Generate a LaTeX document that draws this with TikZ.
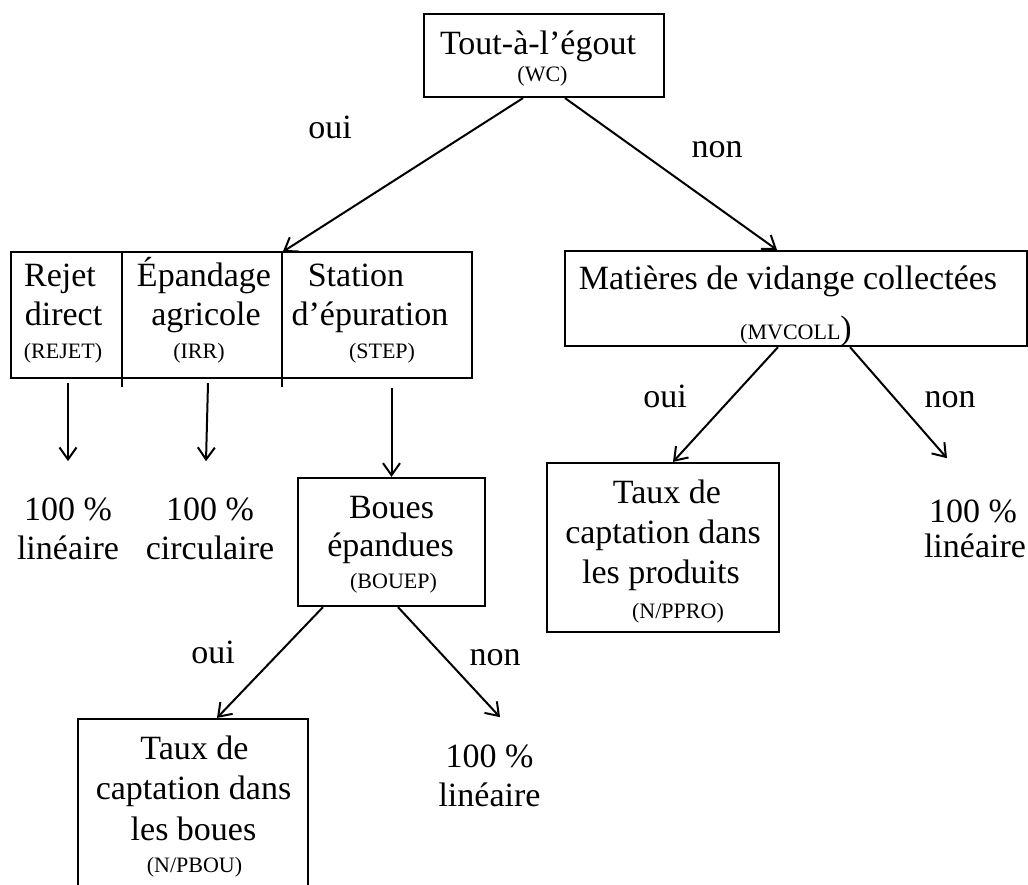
\documentclass[tikz,border=0pt]{standalone}
\usepackage{fontspec}
\setmainfont{Liberation Serif}
\usetikzlibrary{arrows.meta}
\tikzset{
  box/.style={draw, line width=2.2pt, inner sep=0pt},
  sect/.style={inner sep=0pt, minimum height=126pt},
  big/.style={font=\fontsize{34}{40}\selectfont, inner sep=0pt, anchor=base},
  sm/.style={font=\fontsize{22}{26}\selectfont, inner sep=0pt, anchor=base},
  conn/.style={line width=2pt, -{Straight Barb[length=12pt,width=17pt]}},
  divider/.style={line width=2.2pt},
}
\begin{document}
\begin{tikzpicture}[x=1pt,y=-1pt]
\useasboundingbox (0,0) rectangle (1028,885);
\fill[white] (0,0) rectangle (1028,885);
\clip (0,0) rectangle (1028,885);

% root question
\node[box, minimum width=240, minimum height=83] (wc) at (544,55.5) {};
\node[big] (wct) at (538,55) {Tout-à-l’égout};
\node[sm]  (wcs) at (542.5,82) {(WC)};

% sewer outlets: one box split in three
\node[box, minimum width=461, minimum height=126] (dest) at (241.5,315) {};
\node[sect, minimum width=111] (rejet) at (66.5,315) {};
\node[sect, minimum width=160] (irr)   at (202,315) {};
\node[sect, minimum width=190] (step)  at (377,315) {};
\draw[divider] (rejet.north east) -- ++(0,135);
\draw[divider] (irr.north east) -- ++(0,135);

\node[big] (rj1) at (60,287)   {Rejet};
\node[big] (rj2) at (63.5,325) {direct};
\node[sm]  (rj3) at (63,358)   {(REJET)};
\node[big] (ir1) at (204,287)  {Épandage};
\node[big] (ir2) at (206,325)  {agricole};
\node[sm]  (ir3) at (199,358)  {(IRR)};
\node[big] (st1) at (356,287)  {Station};
\node[big] (st2) at (370,325)  {d’épuration};
\node[sm]  (st3) at (382,358)  {(STEP)};

% collected sludge
\node[box, minimum width=462, minimum height=95] (mv) at (796,298.5) {};
\node[big] (mv1) at (788,290) {Matières de vidange collectées};
\node[sm]  (mv2) at (796,339) {(MVCOLL{\fontsize{34}{40}\selectfont)}};

% outcomes of the split box
\node[big] (lin1a) at (68,520)  {100 \%};
\node[big] (lin1b) at (68,559)  {linéaire};
\node[big] (circa) at (210,520) {100 \%};
\node[big] (circb) at (210,559) {circulaire};

% spread sludge
\node[box, minimum width=187, minimum height=128] (boues) at (391.5,542) {};
\node[big] (bo1) at (391.5,518) {Boues};
\node[big] (bo2) at (390.5,556) {épandues};
\node[sm]  (bo3) at (393.5,588) {(BOUEP)};

% capture rate in products
\node[box, minimum width=232, minimum height=169] (ppro) at (663,547.5) {};
\node[big] (pp1) at (667,503) {Taux de};
\node[big] (pp2) at (663,543) {captation dans};
\node[big] (pp3) at (661,583) {les produits};
\node[sm]  (pp4) at (678,618) {(N/PPRO)};

\node[big] (lin3a) at (973,522) {100 \%};
\node[big] (lin3b) at (975,557) {linéaire};

% capture rate in sludge
\node[box, minimum width=230, minimum height=200] (pbou) at (193,819) {};
\node[big] (pb1) at (194.5,759) {Taux de};
\node[big] (pb2) at (193.5,799) {captation dans};
\node[big] (pb3) at (193.5,840) {les boues};
\node[sm]  (pb4) at (194.5,872) {(N/PBOU)};

\node[big] (lin4a) at (489.5,767) {100 \%};
\node[big] (lin4b) at (489.5,806) {linéaire};

% branch labels
\node[big] (ouiA) at (330,139) {oui};
\node[big] (nonA) at (717,158) {non};
\node[big] (ouiB) at (665,407) {oui};
\node[big] (nonB) at (950,407) {non};
\node[big] (ouiC) at (213,663) {oui};
\node[big] (nonC) at (495,665) {non};

% connectors
\draw[conn] ([xshift=-21pt]wc.south) -- ([xshift=1pt]step.north west);
\draw[conn] ([xshift=21pt]wc.south) -- ([xshift=-19pt]mv.north);
\draw[conn] ([xshift=1.5pt,yshift=-5pt]rejet.south) -- ([yshift=36pt]lin1a.north);
\draw[conn] ([xshift=6pt,yshift=-5pt]irr.south) -- ([xshift=-4pt,yshift=36pt]circa.north);
\draw[conn] ([xshift=14.5pt,yshift=-10pt]step.south) -- (boues.north);
\draw[conn] ([xshift=-18pt]mv.south) -- ([xshift=10pt]ppro.north);
\draw[conn] ([xshift=54pt]mv.south) -- ([xshift=-26pt,yshift=41pt]lin3a.north);
\draw[conn] ([xshift=-68.5pt]boues.south) -- ([xshift=24pt]pbou.north);
\draw[conn] ([xshift=6.5pt]boues.south) -- ([xshift=10.5pt,yshift=27pt]lin4a.north);
\end{tikzpicture}
\end{document}
